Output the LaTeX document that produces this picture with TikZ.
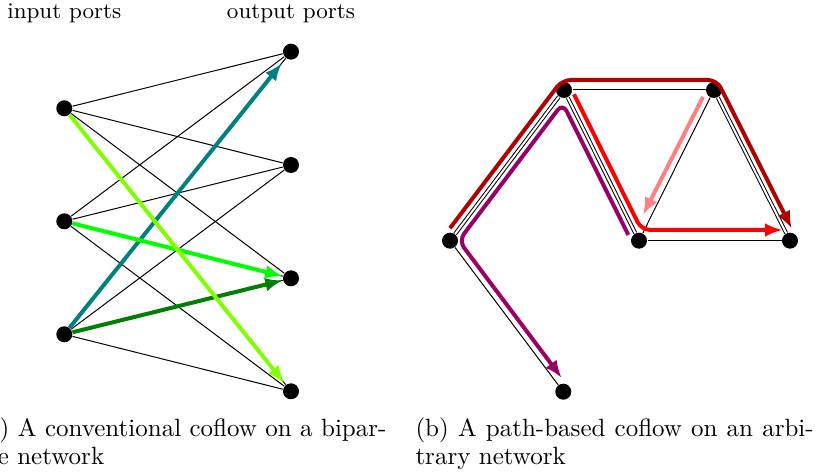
\documentclass[tikz,border=0pt]{standalone}
\usetikzlibrary{arrows.meta}
\definecolor{limeg}{RGB}{128,255,0}
\definecolor{brightg}{RGB}{0,255,0}
\definecolor{darkg}{RGB}{0,128,0}
\definecolor{tealc}{RGB}{0,128,128}
\definecolor{dredc}{RGB}{176,0,0}
\definecolor{purpc}{RGB}{153,0,102}
\definecolor{pinkc}{RGB}{255,128,128}
\tikzset{
  dot/.style={circle,fill=black,inner sep=0pt,minimum size=6.4pt},
  edge/.style={draw=black,line width=0.4pt},
  dbl/.style={draw=black,line width=0.4pt,double=white,double distance=0.8pt},
  flow/.style={line width=1.6pt,-{Latex[length=7pt,width=5.5pt]}},
  pflow/.style={line width=1.6pt,rounded corners=3.5pt,-{Latex[length=7pt,width=5.5pt]}},
  lbl/.style={inner sep=0pt,font=\fontsize{9}{11}\selectfont},
  captext/.style={inner sep=0pt,font=\fontsize{10}{12}\selectfont}
}
\begin{document}
\begin{tikzpicture}[x=0.4pt,y=-0.4pt]
\useasboundingbox (0,0) rectangle (827,472);
% ---------- left panel ----------
\node[lbl,anchor=base] (tin) at (64.3,18.5) {input ports};
\node[lbl,anchor=base] (tout) at (291,18.5) {output ports};
\node[dot] (i1) at (64.3,108.3) {};
\node[dot] (i2) at (64.3,221.3) {};
\node[dot] (i3) at (64.3,334.3) {};
\node[dot] (o1) at (291,51.7) {};
\node[dot] (o2) at (291,165) {};
\node[dot] (o3) at (291,278.3) {};
\node[dot] (o4) at (291,391.3) {};
\foreach \i in {i1,i2,i3}{
  \foreach \o in {o1,o2,o3,o4}{
    \draw[edge] (\i) -- (\o);
  }
}
\draw[flow,tealc,shorten >=2.5pt] (i3) -- (o1);
\draw[flow,darkg] (i3) -- (o3);
\draw[flow,brightg] (i2) -- (o3);
\draw[flow,limeg,shorten >=0.8pt] (i1) -- (o4);
% ---------- right panel ----------
\node[dot] (a) at (450,240.7) {};
\node[dot] (b) at (564,90) {};
\node[dot] (c) at (714,90) {};
\node[dot] (d) at (639,240.7) {};
\node[dot] (e) at (790,240.7) {};
\node[dot] (f) at (563.3,391.7) {};
\draw[dbl] (a) -- (b);
\draw[dbl] (b) -- (d);
\draw[dbl] (c) -- (e);
\draw[edge] (b) -- (c);
\draw[edge] (c) -- (d);
\draw[edge] (d) -- (e);
\draw[edge] (a) -- (f);
\coordinate (dr0) at (450.0,228.2);
\coordinate (dr1) at (562.2,80);
\coordinate (dr2) at (716.8,80);
\coordinate (dr3) at (791.8,228.6);
\draw[pflow,dredc] (dr0) -- (dr1) -- (dr2) -- (dr3);
\coordinate (pu0) at (628.3,234.9);
\coordinate (pu1) at (562.75,103.25);
\coordinate (pu2) at (458.8,240.7);
\coordinate (pu3) at (561.7,377.9);
\draw[pflow,purpc] (pu0) -- (pu1) -- (pu2) -- (pu3);
\coordinate (rd0) at (574.0,94.3);
\coordinate (rd1) at (641.5,230);
\coordinate (rd2) at (782.5,230);
\draw[pflow,red] (rd0) -- (rd1) -- (rd2);
\coordinate (pk0) at (703,97);
\coordinate (pk1) at (643,215);
\draw[flow,pinkc] (pk0) -- (pk1);
% ---------- captions ----------
\node[captext,anchor=base west] (capa1) at (-23,436.5) {\makebox[163.6pt][s]{(a) A conventional coflow on a bipar-}};
\node[captext,anchor=base west] (capa2) at (-29,464.5) {tite network};
\node[captext,anchor=base west] (capb1) at (415,436.5) {\makebox[159.3pt][s]{(b) A path-based coflow on an arbi-}};
\node[captext,anchor=base west] (capb2) at (415,464.5) {trary network};
\end{tikzpicture}
\end{document}
